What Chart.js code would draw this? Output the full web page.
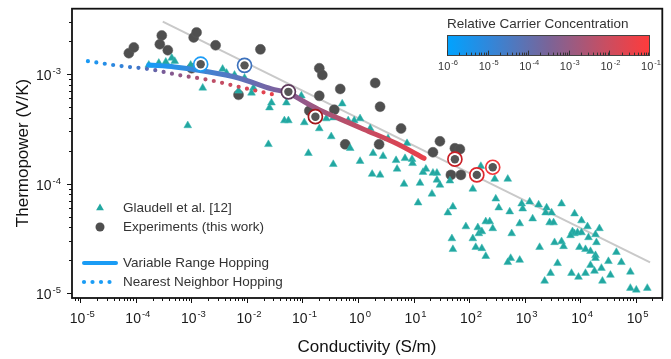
<!DOCTYPE html>
<html>
<head>
<meta charset="utf-8">
<script src="https://cdn.jsdelivr.net/npm/chart.js@4.4.1/dist/chart.umd.min.js"></script>
<style>
  html, body { margin: 0; padding: 0; background: #fff; }
  #wrap { width: 671px; height: 359px; }
</style>
</head>
<body>
<div id="wrap"><canvas id="thermoChart"></canvas></div>
<script>
// Glaudell et al. [12] (triangles)
const glaudellX = [1.71e-4, 2.59e-4, 3.46e-4, 4.43e-4, 5.01e-4, 9.7e-4, 1.60e-3, 8.6e-4, 3.65e-3, 4.30e-3,
  5.98e-3, 9.06e-3, 7.06e-3, 1.31e-2, 1.21e-2, 2.55e-2, 2.77e-2, 5.14e-2, 9.55e-2, 4.73e-2,
  5.58e-2, 0.108, 0.201, 0.269, 0.359, 2.44e-2, 0.128, 0.330, 0.359, 0.520,
  0.667, 0.855, 1.09, 1.66, 3.48, 7.64, 0.724, 1.87, 2.83, 4.85,
  7.03, 9.40, 9.6, 1.09, 1.80, 2.50, 5.06, 14.8, 16.7, 22.4,
  26.4, 6.75, 13.1, 26.4, 45.2, 29.9, 21.5, 12.1, 51.2, 41.6,
  163, 290, 498, 117, 303, 343, 540, 887, 925, 1236,
  1397, 1791, 2495, 2393, 3069, 4634, 7943, 10590, 13580, 22280,
  18920, 19680, 7295, 7900, 8974, 6730, 10590, 14160, 817, 586,
  2825, 3327, 3467, 4634, 5035, 1866, 9750, 12500, 15380, 18920,
  18920, 15380, 32360, 44980, 55340, 24210, 18150, 12500, 9350, 7000,
  3926, 2938, 2296, 562, 498, 817, 35160, 25230, 80350, 80350,
  102800, 162200, 87.7, 144, 150, 170, 117, 132, 170, 200,
  200, 236, 267, 49.1, 51.2];
const glaudellY = [1.21e-3, 1.26e-3, 1.29e-3, 1.40e-3, 1.31e-3, 1.21e-3, 7.47e-4, 3.39e-4, 1.11e-3, 1.02e-3,
  9.8e-4, 9.2e-4, 7.02e-4, 7.47e-4, 6.73e-4, 4.93e-4, 5.47e-4, 5.47e-4, 6.33e-4, 3.76e-4,
  3.76e-4, 3.61e-4, 3.18e-4, 3.92e-4, 4.00e-4, 2.28e-4, 1.89e-4, 2.69e-4, 1.50e-4, 5.36e-4,
  3.76e-4, 3.76e-4, 3.92e-4, 3.18e-4, 2.58e-4, 2.33e-4, 2.10e-4, 1.89e-4, 1.78e-4, 1.63e-4,
  1.70e-4, 1.67e-4, 1.53e-4, 1.60e-4, 1.22e-4, 1.20e-4, 1.36e-4, 1.27e-4, 1.36e-4, 1.25e-4,
  1.25e-4, 9.9e-5, 1.01e-4, 1.08e-4, 1.06e-4, 9.7e-5, 8.05e-5, 6.68e-5, 6.14e-5, 5.42e-5,
  1.44e-4, 1.10e-4, 1.10e-4, 8.93e-5, 7.26e-5, 6.02e-5, 5.54e-5, 6.55e-5, 5.89e-5, 6.83e-5,
  4.78e-5, 6.41e-5, 6.02e-5, 5.42e-5, 5.42e-5, 6.55e-5, 5.31e-5, 4.59e-5, 4.05e-5, 3.89e-5,
  3.43e-5, 2.90e-5, 3.65e-5, 3.50e-5, 3.57e-5, 3.36e-5, 3.57e-5, 3.22e-5, 4.31e-5, 3.50e-5,
  4.40e-5, 4.40e-5, 2.90e-5, 2.96e-5, 2.67e-5, 2.62e-5, 2.62e-5, 2.51e-5, 2.41e-5, 2.21e-5,
  2.08e-5, 1.80e-5, 1.95e-5, 2.36e-5, 1.91e-5, 1.69e-5, 1.59e-5, 1.52e-5, 1.40e-5, 1.52e-5,
  1.87e-5, 1.52e-5, 1.29e-5, 2.08e-5, 1.91e-5, 2.00e-5, 1.46e-5, 1.29e-5, 1.56e-5, 1.11e-5,
  1.07e-5, 1.11e-5, 4.05e-5, 3.97e-5, 3.50e-5, 3.65e-5, 3.15e-5, 2.62e-5, 2.56e-5, 2.17e-5,
  4.50e-5, 4.50e-5, 3.89e-5, 3.15e-5, 2.51e-5];

// Experiments (this work)
const expX = [7.48e-5, 9.2e-5, 2.93e-4, 2.70e-4, 3.76e-4, 1.10e-3, 1.24e-3, 2.73e-3, 1.01e-3, 1.47e-3,
  9.06e-3, 1.75e-2, 7.06e-3, 5.58e-2, 0.201, 0.228, 0.201, 0.133, 0.171, 0.374,
  0.479, 2.04, 2.50, 5.97, 0.589, 2.40, 29.9, 22.4, 55.6, 68.4,
  55.6, 47.1, 71.3, 138, 267];
const expY = [1.55e-3, 1.75e-3, 2.25e-3, 1.87e-3, 1.65e-3, 2.16e-3, 2.40e-3, 1.83e-3, 1.13e-3, 1.23e-3,
  1.20e-3, 1.68e-3, 6.46e-4, 6.88e-4, 1.13e-3, 9.8e-4, 6.32e-4, 4.62e-4, 4.08e-4, 4.72e-4,
  7.31e-4, 8.29e-4, 5.03e-4, 3.18e-4, 2.28e-4, 2.28e-4, 2.43e-4, 1.93e-4, 2.10e-4, 2.06e-4,
  1.67e-4, 1.20e-4, 1.20e-4, 1.20e-4, 1.41e-4];

// experiments highlighted with a ring (colour = carrier concentration)
const ringX = [1.47e-3, 9.06e-3, 5.58e-2, 0.171, 55.6, 138, 267];
const ringY = [1.23e-3, 1.20e-3, 6.88e-4, 4.08e-4, 1.67e-4, 1.20e-4, 1.41e-4];
const ringColors = ['#1c9cf6', '#3d72bd', '#5e3a5c', '#a3171d', '#c81f26', '#de262c', '#f2383c'];

// Variable Range Hopping model
const vrhX = [1.71e-4, 5.0e-4, 1.73e-3, 7.06e-3, 2.77e-2, 5.58e-2, 0.108, 0.218, 0.459, 1.29, 4.85, 15.5];
const vrhY = [1.21e-3, 1.16e-3, 1.06e-3, 9.2e-4, 7.31e-4, 6.73e-4, 5.58e-4, 4.62e-4, 3.92e-4, 3.12e-4, 2.33e-4, 1.70e-4];

// Nearest Neighbor Hopping model
const nnhX = [1.37e-5, 5.61e-5, 1.71e-4, 5.92e-4, 2.05e-3, 7.36e-3, 1.83e-2, 3.85e-2];
const nnhY = [1.31e-3, 1.18e-3, 1.11e-3, 9.8e-4, 8.83e-4, 7.62e-4, 6.87e-4, 6.33e-4];

// grey guide line (slope -1/4)
const fitX = [3.05e-4, 1.82e5];
const fitY = [3.01e-3, 1.91e-5];

// tick labels (powers of ten)
const xTickExp = [-5, -4, -3, -2, -1, 0, 1, 2, 3, 4, 5];
const yTickExp = [-5, -4, -3];
const barTickExp = [-6, -5, -4, -3, -2, -1];

const FONT = '"Liberation Sans", Arial, Helvetica, sans-serif';
const TEAL = '#22a7a1';
const GRAY = '#4f4f4f';

const pts = (xs, ys) => xs.map((x, i) => ({x: x, y: ys[i]}));

function lineGradient(chart, xs, stops) {
    const area = chart.chartArea;
    if (!area) return stops[0][1];
    const sx = chart.scales.x;
    const x0 = sx.getPixelForValue(xs[0]);
    const x1 = sx.getPixelForValue(xs[xs.length - 1]);
    const g = chart.ctx.createLinearGradient(x0, 0, x1, 0);
    stops.forEach(s => g.addColorStop(s[0], s[1]));
    return g;
}

const vrhStops = [[0, '#169cf7'], [0.25, '#4a7ecb'], [0.48, '#7f5f9c'], [0.7, '#b5506c'], [1, '#e8404b']];
const nnhStops = [[0, '#1a9af5'], [0.25, '#3d78cc'], [0.4, '#7a5a96'], [0.62, '#b8506a'], [1, '#ee3f48']];
const barStops = [[0, '#00a3ff'], [0.2, '#2f88dc'], [0.5, '#7a6498'], [0.78, '#c84e62'], [1, '#ff3b3b']];

function powLabel(ctx, e, x, y, align, big, small, raise) {
    const base = '10';
    const sup = String(e);
    ctx.font = big + 'px ' + FONT;
    const wb = ctx.measureText(base).width;
    ctx.font = small + 'px ' + FONT;
    const ws = ctx.measureText(sup).width;
    let x0 = align === 'right' ? x - wb - ws - 1 : x - (wb + ws + 1) / 2;
    ctx.textAlign = 'left';
    ctx.textBaseline = 'alphabetic';
    ctx.font = big + 'px ' + FONT;
    ctx.fillText(base, x0, y);
    ctx.font = small + 'px ' + FONT;
    ctx.fillText(sup, x0 + wb + 1, y - raise);
}

function triangle(ctx, x, y, r) {
    ctx.beginPath();
    ctx.moveTo(x, y - r);
    ctx.lineTo(x + r * Math.sin(2 * Math.PI / 3), y + r / 2);
    ctx.lineTo(x - r * Math.sin(2 * Math.PI / 3), y + r / 2);
    ctx.closePath();
    ctx.fill();
}

const decorations = {
    id: 'decorations',
    afterDraw(chart) {
        const ctx = chart.ctx;
        const a = chart.chartArea;
        const sx = chart.scales.x, sy = chart.scales.y;
        ctx.save();

        // frame
        ctx.strokeStyle = '#111';
        ctx.lineWidth = 1.8;
        ctx.strokeRect(a.left, a.top, a.right - a.left, a.bottom - a.top);

        // ticks
        ctx.lineWidth = 1;
        ctx.strokeStyle = '#111';
        for (let e = -6; e <= 6; e++) {
            for (let m = 1; m <= 9; m++) {
                const v = m * Math.pow(10, e);
                if (v >= sx.min && v <= sx.max) {
                    const px = Math.round(sx.getPixelForValue(v)) + 0.5;
                    ctx.beginPath();
                    ctx.moveTo(px, a.bottom);
                    ctx.lineTo(px, a.bottom + (m === 1 ? 5 : 3));
                    ctx.stroke();
                }
                if (v >= sy.min && v <= sy.max) {
                    const py = Math.round(sy.getPixelForValue(v)) + 0.5;
                    ctx.beginPath();
                    ctx.moveTo(a.left, py);
                    ctx.lineTo(a.left - (m === 1 ? 5 : 3), py);
                    ctx.stroke();
                }
            }
        }

        // tick labels
        ctx.fillStyle = '#1a1a1a';
        xTickExp.forEach(e => {
            powLabel(ctx, e, sx.getPixelForValue(Math.pow(10, e)) + 2, 323, 'center', 14, 9.5, 6);
        });
        yTickExp.forEach(e => {
            powLabel(ctx, e, 61, sy.getPixelForValue(Math.pow(10, e)) + 6, 'right', 14, 9.5, 6);
        });

        // axis titles
        ctx.fillStyle = '#111';
        ctx.font = '17px ' + FONT;
        ctx.textAlign = 'center';
        ctx.textBaseline = 'alphabetic';
        ctx.fillText('Conductivity (S/m)', 367, 352);
        ctx.save();
        ctx.translate(28, 153);
        ctx.rotate(-Math.PI / 2);
        ctx.fillText('Thermopower (V/K)', 0, 0);
        ctx.restore();

        // legend
        ctx.fillStyle = TEAL;
        triangle(ctx, 100, 208, 4.5);
        ctx.fillStyle = GRAY;
        ctx.beginPath();
        ctx.arc(100, 227, 4.5, 0, 2 * Math.PI);
        ctx.fill();
        ctx.strokeStyle = '#1a9cf5';
        ctx.lineWidth = 4;
        ctx.lineCap = 'round';
        ctx.beginPath();
        ctx.moveTo(84, 263);
        ctx.lineTo(116, 263);
        ctx.stroke();
        ctx.fillStyle = '#1a9cf5';
        [84, 92.5, 101, 109.5].forEach(x => {
            ctx.beginPath();
            ctx.arc(x, 282, 2.1, 0, 2 * Math.PI);
            ctx.fill();
        });
        ctx.fillStyle = '#333';
        ctx.font = '13.5px ' + FONT;
        ctx.textAlign = 'left';
        ctx.textBaseline = 'middle';
        ctx.fillText('Glaudell et al. [12]', 123, 208);
        ctx.fillText('Experiments (this work)', 123, 227);
        ctx.fillText('Variable Range Hopping', 123, 263);
        ctx.fillText('Nearest Neighbor Hopping', 123, 282);

        // colour bar
        const bx0 = 447, bx1 = 650, by0 = 35, by1 = 56;
        const g = ctx.createLinearGradient(bx0, 0, bx1, 0);
        barStops.forEach(s => g.addColorStop(s[0], s[1]));
        ctx.fillStyle = g;
        ctx.fillRect(bx0, by0, bx1 - bx0, by1 - by0);
        ctx.strokeStyle = '#444';
        ctx.lineWidth = 1;
        ctx.strokeRect(bx0 + 0.5, by0 + 0.5, bx1 - bx0 - 1, by1 - by0 - 1);
        const dec = (bx1 - bx0) / (barTickExp.length - 1);
        ctx.strokeStyle = '#333';
        barTickExp.forEach((e, i) => {
            if (i === barTickExp.length - 1) return;
            for (let m = 1; m <= 9; m++) {
                const px = Math.round(bx0 + dec * (i + Math.log10(m))) + 0.5;
                ctx.beginPath();
                ctx.moveTo(px, by1 - 1);
                ctx.lineTo(px, by1 - 1 - (m === 1 ? 4 : 2));
                ctx.stroke();
            }
        });
        ctx.fillStyle = '#333';
        barTickExp.forEach((e, i) => {
            powLabel(ctx, e, bx0 + dec * i + 1, 70, 'center', 11, 7.5, 5);
        });
        ctx.fillStyle = '#333';
        ctx.font = '13.5px ' + FONT;
        ctx.textAlign = 'left';
        ctx.textBaseline = 'alphabetic';
        ctx.fillText('Relative Carrier Concentration', 447, 28);

        ctx.restore();
    }
};

document.addEventListener('DOMContentLoaded', () => {
    new Chart(document.getElementById('thermoChart'), {
        type: 'scatter',
        data: {
            datasets: [{
                label: 'ringCore',
                data: pts(ringX, ringY),
                pointRadius: 4.2,
                pointBackgroundColor: '#565656',
                pointBorderWidth: 0,
                order: 0
            }, {
                label: 'ring',
                data: pts(ringX, ringY),
                pointRadius: 7,
                pointBackgroundColor: '#fff',
                pointBorderColor: ringColors,
                pointBorderWidth: 1.7,
                order: 1
            }, {
                label: 'Variable Range Hopping',
                data: pts(vrhX, vrhY),
                showLine: true,
                pointRadius: 0,
                borderWidth: 5,
                borderCapStyle: 'round',
                cubicInterpolationMode: 'monotone',
                borderColor: c => lineGradient(c.chart, vrhX, vrhStops),
                order: 2
            }, {
                label: 'Nearest Neighbor Hopping',
                data: pts(nnhX, nnhY),
                showLine: true,
                pointRadius: 0,
                borderWidth: 4.2,
                borderDash: [0, 8.5],
                borderCapStyle: 'round',
                cubicInterpolationMode: 'monotone',
                borderColor: c => lineGradient(c.chart, nnhX, nnhStops),
                order: 3
            }, {
                label: 'Glaudell et al. [12]',
                data: pts(glaudellX, glaudellY),
                pointStyle: 'triangle',
                pointRadius: 4.5,
                pointBackgroundColor: TEAL,
                pointBorderColor: '#3cb8b2',
                pointBorderWidth: 0.5,
                order: 4
            }, {
                label: 'Experiments (this work)',
                data: pts(expX, expY),
                pointRadius: 5,
                pointBackgroundColor: GRAY,
                pointBorderColor: '#5c5c5c',
                pointBorderWidth: 0.5,
                order: 5
            }, {
                label: 'guide',
                data: pts(fitX, fitY),
                showLine: true,
                pointRadius: 0,
                borderWidth: 2,
                borderColor: '#c9c9c9',
                order: 6
            }]
        },
        options: {
            responsive: true,
            maintainAspectRatio: false,
            animation: false,
            events: [],
            layout: { padding: { top: 6, right: 7, left: 0, bottom: 0 } },
            plugins: { legend: { display: false }, tooltip: { enabled: false } },
            scales: {
                x: {
                    type: 'logarithmic',
                    min: 7.08e-6,
                    max: 3.02e5,
                    ticks: { display: false },
                    grid: { display: false },
                    border: { display: false },
                    afterFit: s => { s.height = 61; }
                },
                y: {
                    type: 'logarithmic',
                    min: 9.02e-6,
                    max: 3.95e-3,
                    ticks: { display: false },
                    grid: { display: false },
                    border: { display: false },
                    afterFit: s => { s.width = 72; }
                }
            }
        },
        plugins: [decorations]
    });
});
</script>
</body>
</html>
